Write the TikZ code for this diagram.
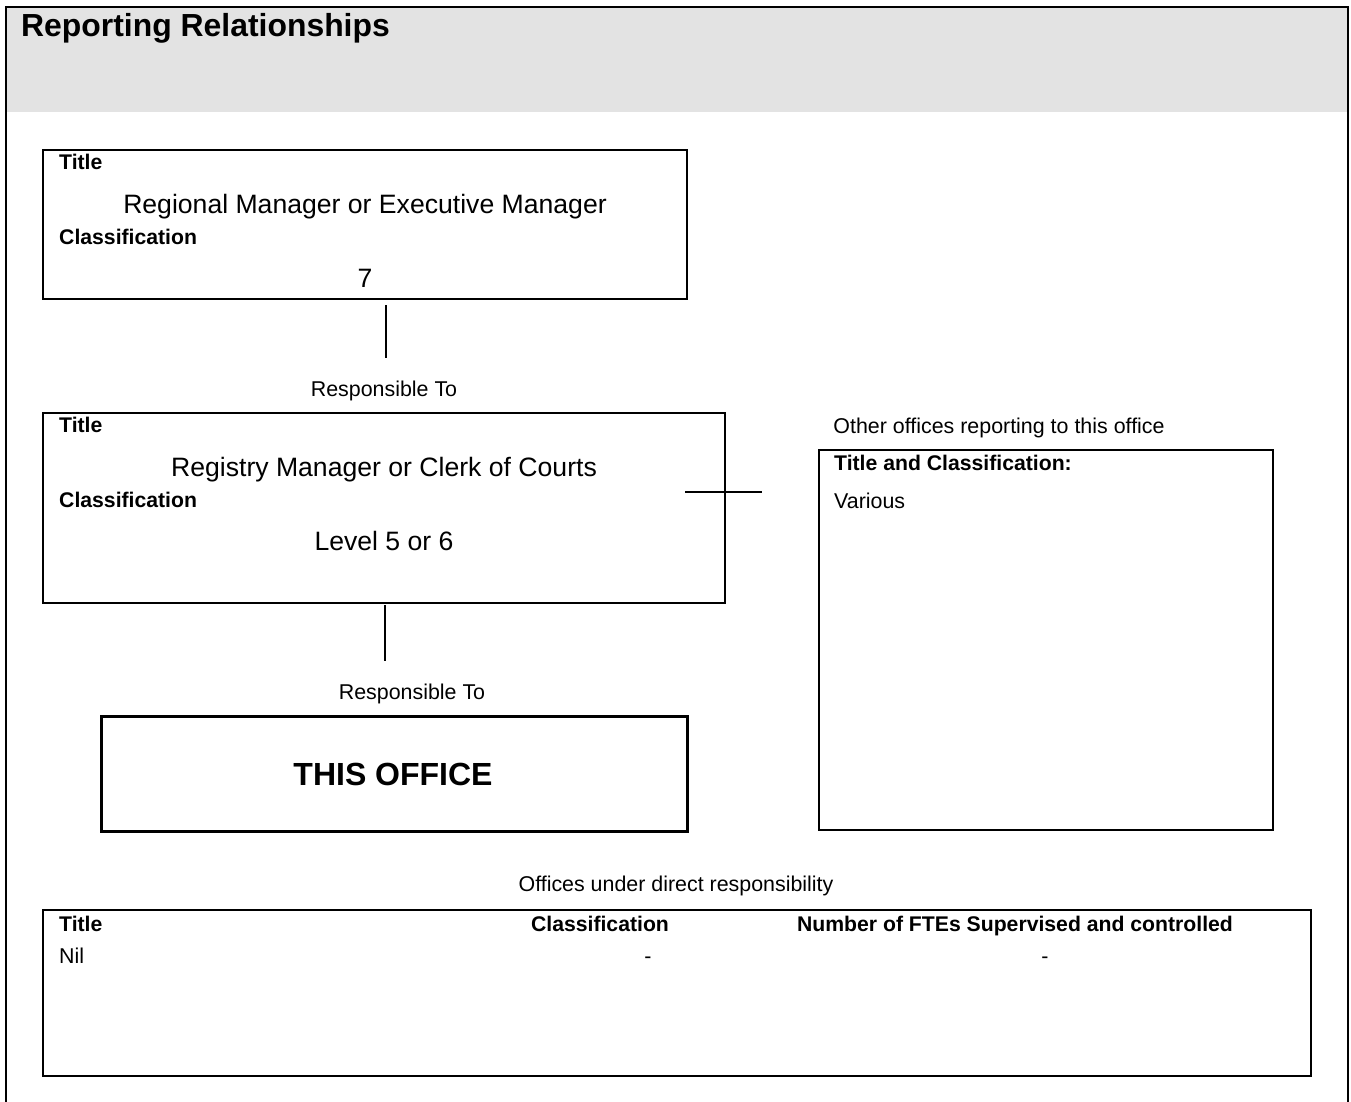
\documentclass[tikz,border=0pt]{standalone}
\usepackage{fontspec}
\setmainfont{Liberation Sans}
\definecolor{hdrgray}{HTML}{E3E3E3}
\tikzset{
  box/.style={draw=black, line width=1.3pt},
  thickbox/.style={draw=black, line width=3pt},
  conn/.style={draw=black, line width=1.3pt},
  lbl/.style={inner sep=0pt, anchor=base west, font=\fontsize{21.2}{24}\selectfont\bfseries},
  lblc/.style={inner sep=0pt, anchor=base, font=\fontsize{21.2}{24}\selectfont\bfseries},
  small/.style={inner sep=0pt, anchor=base, font=\fontsize{21.4}{24}\selectfont},
  smallw/.style={inner sep=0pt, anchor=base west, font=\fontsize{21.4}{24}\selectfont},
  big/.style={inner sep=0pt, anchor=base, font=\fontsize{26.6}{30}\selectfont},
}
\begin{document}
\begin{tikzpicture}[x=1pt,y=-1pt]
\useasboundingbox (0,0) rectangle (1351,1102);
% header
\fill[hdrgray] (6,7) rectangle (1348,112);
\draw[line width=2pt] (6,1102) -- (6,7) -- (1348,7) -- (1348,1102);
\node[inner sep=0pt, anchor=base west, font=\fontsize{31.9}{36}\selectfont\bfseries] (hdr) at (21,37) {Reporting Relationships};

% box 1
\draw[box] (43,150) rectangle (687,299);
\node[lbl] (t1) at (59,170) {Title};
\node[big] (v1) at (365,213) {Regional Manager or Executive Manager};
\node[lbl] (c1) at (59,244) {Classification};
\node[big] (k1) at (365,287) {7};

% connector 1
\coordinate (l1a) at (386,305);
\coordinate (l1b) at (386,358);
\draw[conn] (l1a) -- (l1b);
\node[small] (r1) at (384,396) {Responsible To};

% box 2
\draw[box] (43,413) rectangle (725,603);
\node[lbl] (t2) at (59,432) {Title};
\node[big] (v2) at (384,476) {Registry Manager or Clerk of Courts};
\node[lbl] (c2) at (59,507) {Classification};
\node[big] (k2) at (384,550) {Level 5 or 6};

% side connector
\coordinate (s1) at (685,492);
\coordinate (s2) at (762,492);
\draw[conn] (s1) -- (s2);

% connector 2
\coordinate (l2a) at (385,605);
\coordinate (l2b) at (385,661);
\draw[conn] (l2a) -- (l2b);
\node[small] (r2) at (412,699) {Responsible To};

% this office
\draw[thickbox] (101,716) rectangle (687,831);
\node[inner sep=0pt, anchor=base, font=\fontsize{32}{36}\selectfont\bfseries] (office) at (393,785) {THIS OFFICE};

% other offices
\node[small] (oth) at (999,433) {Other offices reporting to this office};
\draw[box] (819,450) rectangle (1273,830);
\node[lbl] (t4) at (834,470) {Title and Classification:};
\node[smallw] (var) at (834,508) {Various};

% offices under
\node[small] (und) at (676,891) {Offices under direct responsibility};
\draw[box] (43,910) rectangle (1311,1076);
\draw[line width=2pt] (43,1076) -- (1311,1076);
\node[lbl] (t5) at (59,931) {Title};
\node[lblc] (c5) at (600,931) {Classification};
\node[lblc] (f5) at (1015,931) {Number of FTEs Supervised and controlled};
\node[smallw] (nil) at (59,963) {Nil};
\node[small] (d1) at (648,963) {-};
\node[small] (d2) at (1045,963) {-};
\end{tikzpicture}
\end{document}
